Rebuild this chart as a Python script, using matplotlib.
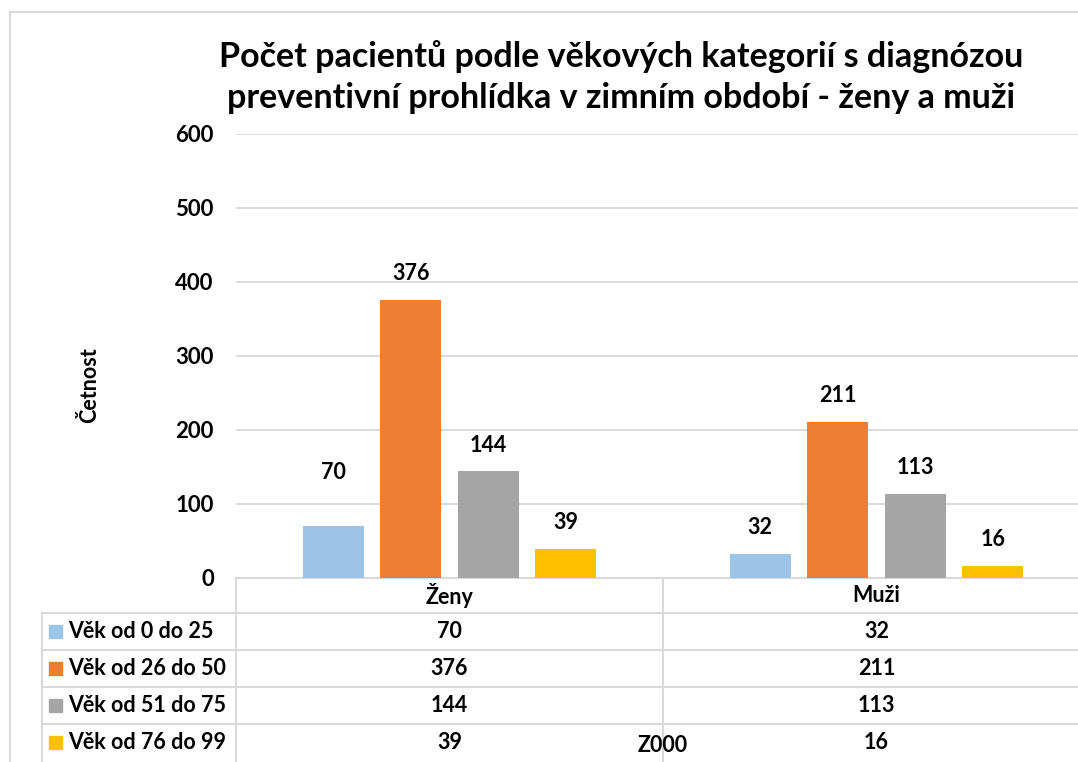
import matplotlib.pyplot as plt
import matplotlib.transforms as mtransforms
import numpy as np

plt.rcParams['font.family'] = ['Lato', 'DejaVu Sans']
plt.rcParams['font.weight'] = 'bold'

categories = ['Ženy', 'Muži']
series_names = ['Věk od 0 do 25', 'Věk od 26 do 50', 'Věk od 51 do 75', 'Věk od 76 do 99']
values = [
    [70, 32],
    [376, 211],
    [144, 113],
    [39, 16],
]
colors = ['#9DC3E6', '#ED7D31', '#A5A5A5', '#FFC000']
yticks = [0, 100, 200, 300, 400, 500, 600]
title = 'Počet pacientů podle věkových kategorií s diagnózou\npreventivní prohlídka v zimním období - ženy a muži'

W, H = 1078, 762
fig = plt.figure(figsize=(W / 100, H / 100), dpi=100)


def fx(px):
    return px / W


def fy(py):
    return 1 - py / H


grid_c = '#D9D9D9'
fs = 15.5

# plot area (the right part runs past the picture, as in the reference)
left, right, top, bottom = 236, 1090, 134, 578
ax = fig.add_axes([fx(left), fy(bottom), fx(right - left), (bottom - top) / H])
x = np.arange(len(categories))
step = 0.1815
width = 0.143
for i, (name, vals) in enumerate(zip(series_names, values)):
    off = (i - 1.5) * step
    bars = ax.bar(x + off, vals, width, color=colors[i], zorder=3)
    for j, (b, v) in enumerate(zip(bars, vals)):
        # Excel pushed the first label up past the 100 gridline
        dy = 39 if (i, j) == (0, 0) else 19
        ax.annotate(str(v), (b.get_x() + b.get_width() / 2, v), xytext=(0, dy),
                    textcoords='offset points', ha='center', va='center',
                    fontsize=fs, fontweight='bold')

ax.set_xlim(-0.5, len(categories) - 0.5)
ax.set_ylim(0, 600)
ax.set_yticks(yticks)
ax.set_yticklabels([str(t) for t in yticks], fontsize=16, fontweight='bold')
ax.tick_params(axis='y', length=0, pad=16)
ax.tick_params(axis='x', length=0, labelbottom=False)
ax.grid(axis='y', color=grid_c, linewidth=1.3, zorder=0)
for s in ['top', 'right', 'left']:
    ax.spines[s].set_visible(False)
ax.spines['bottom'].set_color(grid_c)
ax.spines['bottom'].set_linewidth(1.5)
ax.set_ylabel('Četnost', fontsize=fs, fontweight='bold', va='center')
ax.yaxis.set_label_coords(fx(90), fy(385), transform=fig.transFigure)

fig.text(fx(621), fy(77), title, ha='center', va='center', fontsize=24.5,
         fontweight='bold', linespacing=1.35)

# outer chart border
fig.add_artist(plt.Line2D([fx(10), fx(10)], [fy(12), fy(H + 5)], color=grid_c,
                          linewidth=1.5, transform=fig.transFigure))
fig.add_artist(plt.Line2D([fx(10), fx(W + 5)], [fy(12), fy(12)], color=grid_c,
                          linewidth=1.5, transform=fig.transFigure))

# data table under the plot
blend = mtransforms.blended_transform_factory(ax.transData, fig.transFigure)
row_tops = [578, 613, 650, 687, 724, 761]
for ry in row_tops[1:-1]:
    fig.add_artist(plt.Line2D([fx(42), fx(W + 5)], [fy(ry), fy(ry)], color=grid_c,
                              linewidth=1.5, transform=fig.transFigure))
fig.add_artist(plt.Line2D([fx(42), fx(42)], [fy(613), fy(H + 5)], color=grid_c,
                          linewidth=1.5, transform=fig.transFigure))
fig.add_artist(plt.Line2D([fx(left), fx(left)], [fy(578), fy(H + 5)], color=grid_c,
                          linewidth=1.5, transform=fig.transFigure))
for k in range(len(categories) - 1):
    fig.add_artist(plt.Line2D([k + 0.5, k + 0.5], [fy(578), fy(H + 5)], color=grid_c,
                              linewidth=1.5, transform=blend))

for j, cat in enumerate(categories):
    fig.text(j, fy(596), cat, ha='center', va='center', fontsize=fs,
             fontweight='bold', transform=blend)

for i, (name, vals) in enumerate(zip(series_names, values)):
    yc = (row_tops[i + 1] + row_tops[i + 2]) / 2
    fig.add_artist(plt.Rectangle((fx(49), fy(yc + 6.5)), fx(13), 13 / H,
                                 color=colors[i], transform=fig.transFigure))
    fig.text(fx(68), fy(yc), name, ha='left', va='center', fontsize=fs,
             fontweight='bold')
    for j, v in enumerate(vals):
        fig.text(j, fy(yc), str(v), ha='center', va='center', fontsize=fs,
                 fontweight='bold', transform=blend)

fig.text(0.5, fy(745), 'Z000', ha='center', va='center', fontsize=fs,
         fontweight='bold', transform=blend)

fig.savefig('out.png', dpi=100)
